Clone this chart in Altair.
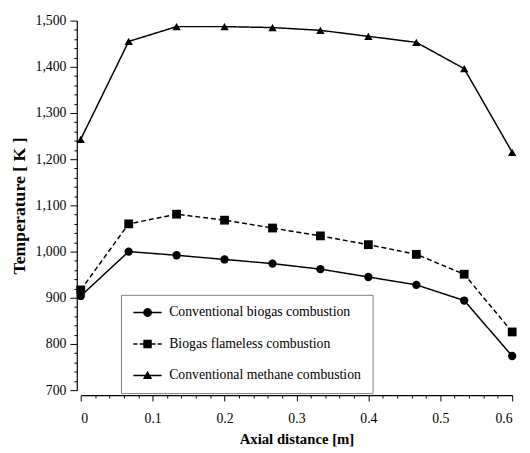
import math
import altair as alt
import pandas as pd

# ---- data ----
axial = [0.0, 0.0667, 0.1333, 0.2, 0.2667, 0.3333, 0.4, 0.4667, 0.5333, 0.6]
conv_biogas = [904, 1000, 992, 983, 974, 962, 945, 928, 894, 774]
flameless = [917, 1060, 1081, 1068, 1051, 1034, 1015, 994, 951, 826]
conv_methane = [1243, 1455, 1487, 1487, 1485, 1479, 1466, 1453, 1396, 1215]

series_names = [
    "Conventional biogas combustion",
    "Biogas flameless combustion",
    "Conventional methane combustion",
]
marker_shapes = ["circle", "square", "triangle-up"]
marker_sizes = [72, 80, 72]
y_ticks = list(range(700, 1501, 20))
x_ticks = [round(i * 0.02, 2) for i in range(31)]

rows = []
for name, vals in zip(series_names, [conv_biogas, flameless, conv_methane]):
    for xv, yv in zip(axial, vals):
        rows.append({"x": xv, "T": yv, "series": name})
df = pd.DataFrame(rows)

FONT = "Liberation Serif"
XMAJ = "abs(datum.value*10 - round(datum.value*10)) < 0.001"
YMAJ = "datum.value % 100 === 0"

x_enc = alt.X(
    "x:Q",
    scale=alt.Scale(domain=[0, 0.6], nice=False, zero=False),
    axis=alt.Axis(
        title="Axial distance [m]",
        values=x_ticks,
        labelExpr=XMAJ + " ? format(datum.value, '~g') : ''",
        tickSize={"condition": {"test": XMAJ, "value": 6}, "value": 3},
        labelOverlap=False,
        offset=5,
        grid=False,
        labelPadding=11,
        titlePadding=6,
        titleFontSize=15,
    ),
)
y_enc = alt.Y(
    "T:Q",
    scale=alt.Scale(domain=[700, 1500], nice=False, zero=False),
    axis=alt.Axis(
        title="Temperature [ K ]",
        values=y_ticks,
        labelExpr=YMAJ + " ? format(datum.value, ',') : ''",
        tickSize={"condition": {"test": YMAJ, "value": 7}, "value": 3},
        labelOverlap=False,
        offset=4,
        grid=False,
        labelPadding=4,
        titlePadding=7,
        titleFontSize=18,
    ),
)

base = alt.Chart(df).encode(x=x_enc, y=y_enc)

lines = base.mark_line(color="black", strokeWidth=1.5).encode(
    detail="series:N",
    strokeDash=alt.StrokeDash(
        "series:N",
        scale=alt.Scale(range=[[5, 3], [1, 0], [1, 0]]),  # alphabetical: flameless first
        legend=None,
    ),
)

point_layers = [
    base.transform_filter(alt.datum.series == name).mark_point(
        shape=shp, filled=True, color="black", opacity=1, size=sz
    )
    for name, shp, sz in zip(series_names, marker_shapes, marker_sizes)
]


# legend glyphs built from straight segments only (thin bar = line, plus marker)
def rect(x0, x1, h=0.17):
    return f"M{x0},{-h}L{x1},{-h}L{x1},{h}L{x0},{h}Z"


def polygon(pts):
    return "M" + "L".join(f"{px:.3f},{py:.3f}" for px, py in pts) + "Z"


circle_pts = [(math.cos(2 * math.pi * k / 20), math.sin(2 * math.pi * k / 20)) for k in range(20)]
bar = rect(-3.2, 3.2)
dashed_bar = rect(-3.2, -2.3) + rect(-1.8, -0.9) + rect(0.9, 1.8) + rect(2.3, 3.2)
circle_path = bar + polygon(circle_pts)
square_path = dashed_bar + polygon([(-0.95, -0.95), (0.95, -0.95), (0.95, 0.95), (-0.95, 0.95)])
tri_path = bar + polygon([(0, -1.05), (1.05, 0.8), (-1.05, 0.8)])

# invisible marks that only carry the legend
legend_layer = base.mark_point(filled=True, color="black", opacity=0).encode(
    shape=alt.Shape(
        "series:N",
        scale=alt.Scale(domain=series_names, range=[circle_path, square_path, tri_path]),
        legend=alt.Legend(
            title=None,
            orient="none",
            legendX=41,
            legendY=279,
            padding=11,
            fillColor="white",
            strokeColor="#808080",
            symbolSize=81,
            symbolOpacity=1,
            symbolFillColor="black",
            symbolStrokeColor="black",
            symbolStrokeWidth=0.5,
            symbolOffset=9,
            labelOffset=15,
            rowPadding=18,
            labelFont=FONT,
            labelFontSize=14,
            labelColor="black",
            labelLimit=400,
        ),
    ),
)

chart = (
    alt.layer(lines, *point_layers, legend_layer)
    .properties(
        width=439,
        height=376,
        autosize=alt.AutoSizeParams(type="none"),
        padding={"left": 74, "top": 9, "right": 10, "bottom": 55},
    )
    .configure_view(stroke=None)
    .configure_axis(
        labelFont=FONT,
        labelFontSize=14,
        labelColor="black",
        titleFont=FONT,
        titleFontWeight="bold",
        titleColor="black",
        domainColor="black",
        domainWidth=1.2,
        tickColor="black",
        tickWidth=1,
    )
)

chart.save("out.html", embed_options={"renderer": "svg", "actions": False})
